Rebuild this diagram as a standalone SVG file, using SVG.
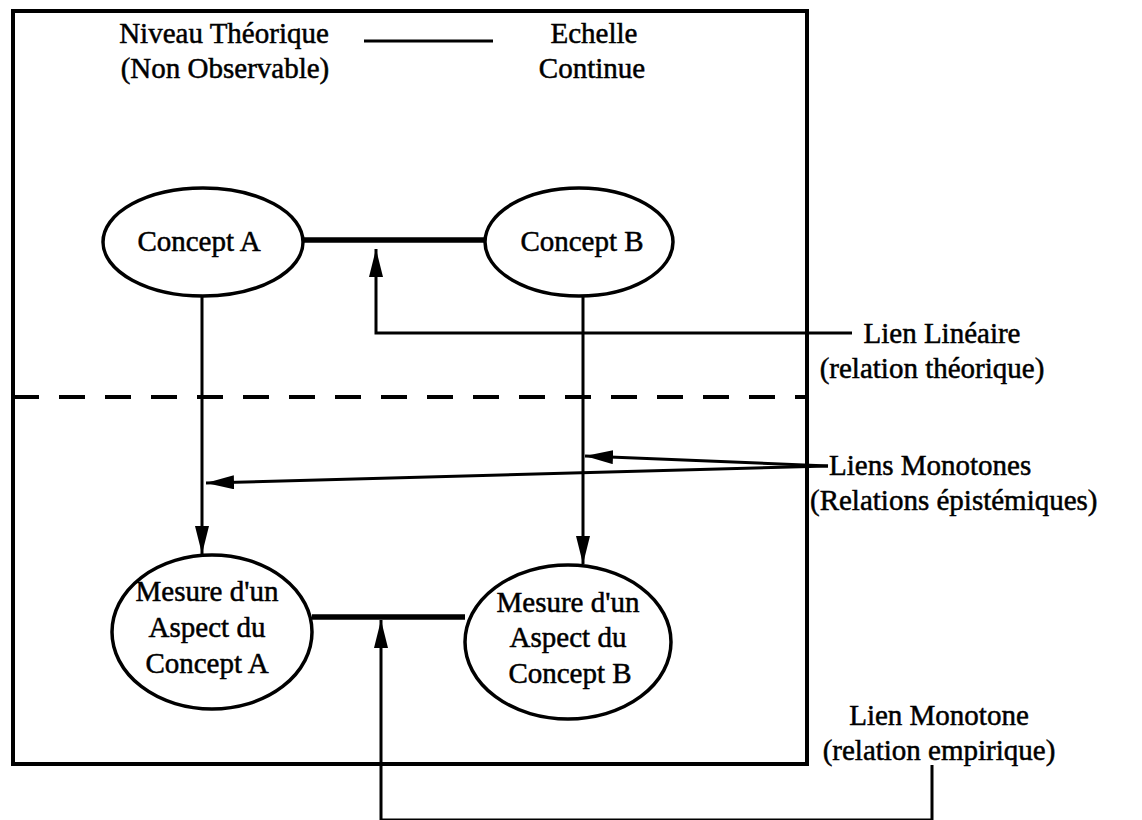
<svg xmlns="http://www.w3.org/2000/svg" width="1142" height="820" viewBox="0 0 1142 820">
<style>
text{font-family:"Liberation Serif","Times New Roman",serif;font-size:29px;fill:#000;stroke:#000;stroke-width:0.5}
.c{text-anchor:middle}
.n{fill:#fff;stroke:#000;stroke-width:3.5}
.l{fill:none;stroke:#000;stroke-width:3}
.t{fill:none;stroke:#000;stroke-width:5.5}
</style>
<defs>
<marker id="ah2" viewBox="0 0 10 10" refX="10" refY="5" markerWidth="28" markerHeight="14" markerUnits="userSpaceOnUse" orient="auto" preserveAspectRatio="none">
<path d="M0,0 L10,5 L0,10 Z" fill="#000"/>
</marker>
</defs>
<rect x="13" y="11" width="794" height="753" fill="none" stroke="#000" stroke-width="4"/>
<g id="legend">
<text x="224" y="43" class="c">Niveau Théorique</text>
<text x="225" y="78" class="c">(Non Observable)</text>
<line x1="364" y1="41" x2="493" y2="41" stroke="#000" stroke-width="3"/>
<text x="594" y="43" class="c">Echelle</text>
<text x="592" y="78" class="c">Continue</text>
</g>
<g id="connectors">
<line x1="303" y1="240" x2="485" y2="240" class="t"/>
<line x1="312" y1="617" x2="465" y2="617" class="t"/>
<path d="M852,333 H376 V249" class="l" marker-end="url(#ah2)"/>
<line x1="13" y1="397" x2="807" y2="397" stroke="#000" stroke-width="4" stroke-dasharray="26,20"/>
<line x1="202" y1="296" x2="202" y2="554" class="l" marker-end="url(#ah2)"/>
<line x1="583" y1="296" x2="583" y2="564" class="l" marker-end="url(#ah2)"/>
<line x1="828" y1="466" x2="585" y2="456" class="l" stroke-width="4" marker-end="url(#ah2)"/>
<line x1="828" y1="466" x2="206" y2="483" class="l" stroke-width="4" marker-end="url(#ah2)"/>
<path d="M932,765 V820 H381 V620" class="l" marker-end="url(#ah2)"/>
</g>
<g id="conceptA">
<ellipse cx="203" cy="242" rx="100" ry="54" class="n"/>
<text x="199" y="251" class="c">Concept A</text>
</g>
<g id="conceptB">
<ellipse cx="579" cy="242" rx="94" ry="54" class="n"/>
<text x="582" y="251" class="c">Concept B</text>
</g>
<g id="mesureA">
<ellipse cx="212" cy="632" rx="100" ry="77" class="n"/>
<text x="207" y="601" class="c">Mesure d'un</text>
<text x="207" y="637" class="c">Aspect du</text>
<text x="207" y="673" class="c">Concept A</text>
</g>
<g id="mesureB">
<ellipse cx="568" cy="642" rx="103" ry="77" class="n"/>
<text x="568" y="612" class="c">Mesure d'un</text>
<text x="568" y="647" class="c">Aspect du</text>
<text x="570" y="683" class="c">Concept B</text>
</g>
<g id="labels">
<text x="942" y="343" class="c">Lien Linéaire</text>
<text x="932" y="378" class="c">(relation théorique)</text>
<text x="829" y="475">Liens Monotones</text>
<text x="810" y="510">(Relations épistémiques)</text>
<text x="939" y="725" class="c">Lien Monotone</text>
<text x="939" y="760" class="c">(relation empirique)</text>
</g>
</svg>
